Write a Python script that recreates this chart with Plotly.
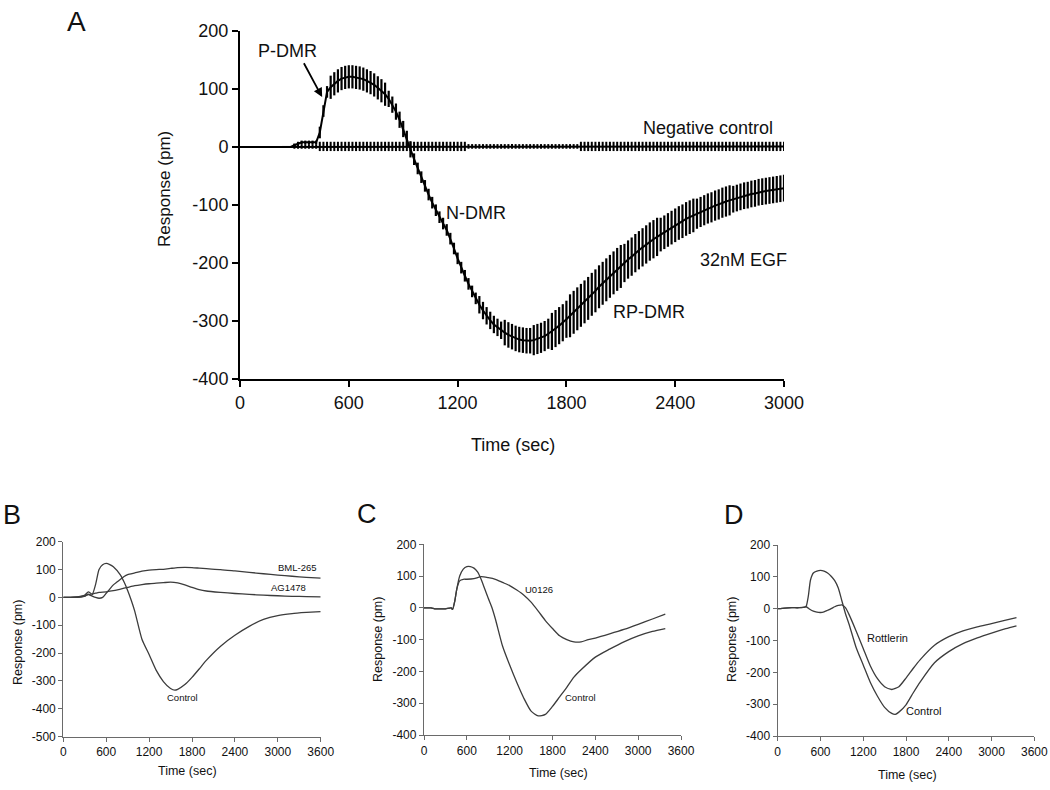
import plotly.graph_objects as go

W, H = 1050, 790
FONT = "Arial, Liberation Sans, sans-serif"


def px(x):
    return x / W


def py(y):
    return 1 - y / H


# ---------------- Panel A data (20 s sampling) ----------------
EGF_TIME = list(range(0, 3001, 20))
EGF_MEAN = [
    0, 0, 0, 0, 0, 0, 0, 0, 0, 0,
    0, 0, 0, 0, 0, 3, 6, 8, 8, 8,
    8, 8, 25, 62, 95, 103, 109, 114, 118, 120,
    121, 121, 120, 119, 117, 114, 111, 107, 102, 97,
    91, 83, 73, 61, 47, 31, 14, -4, -21, -37,
    -52, -67, -82, -96, -109, -121, -132, -143, -158, -175,
    -192, -208, -222, -236, -249, -261, -272, -282, -291, -299,
    -306, -311, -316, -320, -324, -327, -330, -332, -333, -334,
    -334, -333, -331, -329, -326, -322, -318, -313, -308, -303,
    -297, -291, -285, -279, -273, -267, -261, -254, -248, -241,
    -235, -229, -223, -217, -211, -206, -200, -194, -189, -183,
    -178, -173, -168, -163, -159, -155, -151, -147, -143, -139,
    -135, -131, -128, -124, -121, -118, -115, -112, -109, -106,
    -104, -101, -99, -96, -94, -92, -90, -88, -86, -84,
    -83, -81, -80, -78, -77, -76, -75, -74, -73, -72,
    -71,
]
EGF_ERR = [
    0, 0, 0, 0, 0, 0, 0, 0, 0, 0,
    0, 0, 0, 0, 0, 3, 3, 3, 3, 3,
    3, 3, 10, 10, 10, 20, 20, 20, 20, 20,
    20, 20, 20, 20, 20, 20, 20, 20, 20, 20,
    20, 14, 14, 14, 14, 14, 14, 14, 10, 10,
    10, 10, 10, 10, 10, 10, 10, 10, 10, 10,
    10, 10, 10, 10, 10, 10, 15, 15, 15, 15,
    15, 15, 15, 22, 22, 22, 22, 22, 22, 22,
    22, 26, 26, 26, 26, 26, 32, 32, 32, 32,
    32, 37, 37, 37, 37, 37, 37, 37, 37, 37,
    37, 37, 37, 37, 37, 37, 33, 33, 33, 33,
    33, 33, 33, 33, 33, 33, 29, 29, 29, 29,
    29, 29, 29, 29, 29, 29, 26, 26, 26, 26,
    26, 26, 26, 26, 26, 26, 23, 23, 23, 23,
    23, 23, 23, 23, 23, 23, 23, 23, 23, 23,
    23,
]
NEG_MEAN = [
    0, 0, 0, 0, 0, 0, 0, 0, 0, 0,
    0, 0, 0, 0, 0, 1, 1, 1, 1, 1,
    1, 1, 1, 1, 1, 1, 1, 1, 1, 1,
    1, 1, 1, 1, 1, 1, 1, 1, 1, 1,
    1, 1, 1, 1, 1, 1, 1, 1, 1, 1,
    1, 1, 1, 1, 1, 1, 1, 1, 1, 1,
    1, 1, 1, 1, 1, 1, 1, 1, 1, 1,
    1, 1, 1, 1, 1, 1, 1, 1, 1, 1,
    1, 1, 1, 1, 1, 1, 1, 1, 1, 1,
    1, 1, 1, 1, 1, 1, 1, 1, 1, 1,
    1, 1, 1, 1, 1, 1, 1, 1, 1, 1,
    1, 1, 1, 1, 1, 1, 1, 1, 1, 1,
    1, 1, 1, 1, 1, 1, 1, 1, 1, 1,
    1, 1, 1, 1, 1, 1, 1, 1, 1, 1,
    1, 1, 1, 1, 1, 1, 1, 1, 1, 1,
    1,
]
NEG_ERR = [
    0, 0, 0, 0, 0, 0, 0, 0, 0, 0,
    0, 0, 0, 0, 0, 4, 4, 4, 4, 4,
    4, 4, 8, 8, 8, 8, 8, 8, 8, 8,
    8, 8, 8, 8, 8, 8, 8, 8, 8, 8,
    8, 8, 8, 8, 8, 8, 8, 8, 8, 8,
    8, 8, 8, 8, 8, 8, 8, 8, 8, 8,
    8, 8, 8, 4, 4, 4, 4, 4, 4, 4,
    4, 4, 4, 4, 4, 4, 4, 4, 4, 4,
    4, 4, 4, 4, 4, 4, 4, 4, 4, 4,
    4, 4, 4, 4, 8, 8, 8, 8, 8, 8,
    8, 8, 8, 8, 8, 8, 8, 8, 8, 8,
    8, 8, 8, 8, 8, 8, 8, 8, 8, 8,
    8, 8, 8, 8, 8, 8, 8, 8, 8, 8,
    8, 8, 8, 8, 8, 8, 8, 8, 8, 8,
    8, 8, 8, 8, 8, 8, 8, 8, 8, 8,
    8,
]

# ---------------- Panel B data ----------------
B_CTRL_T = [0, 100, 200, 300, 350, 400, 450, 500, 550, 600, 650, 700, 800, 850, 900, 950,
            1000, 1100, 1200, 1300, 1400, 1500, 1560, 1600, 1700, 1800, 1900, 2000, 2200,
            2400, 2600, 2800, 3000, 3200, 3400, 3600]
B_CTRL_V = [0, 0, 2, 5, 12, 8, 45, 100, 117, 122, 118, 110, 80, 55, 25, -10,
            -50, -150, -205, -262, -302, -327, -333, -330, -313, -287, -257, -226, -175,
            -136, -104, -79, -65, -58, -54, -51]
B_BML_T = [0, 100, 200, 300, 350, 400, 450, 500, 550, 600, 650, 700, 750, 800, 850, 900,
           1000, 1100, 1200, 1300, 1400, 1500, 1600, 1700, 1800, 1900, 2000, 2200, 2400,
           2600, 2800, 3000, 3200, 3400, 3600]
B_BML_V = [0, 0, 0, 5, 10, 5, 0, -3, 0, 15, 30, 45, 55, 65, 75, 82,
           88, 94, 98, 100, 101, 104, 107, 108, 107, 105, 103, 100, 95,
           90, 85, 80, 76, 72, 69]
B_AG_T = [0, 100, 200, 300, 350, 400, 450, 500, 600, 700, 800, 900, 1000, 1100, 1200,
          1300, 1400, 1500, 1600, 1700, 1800, 1900, 2000, 2200, 2400, 2600, 2800, 3000,
          3200, 3400, 3600]
B_AG_V = [0, 0, 2, 8, 20, 12, 15, 18, 20, 24, 30, 36, 42, 46, 49,
          51, 53, 55, 52, 45, 36, 28, 23, 18, 14, 11, 8, 6,
          4, 3, 2]

# ---------------- Panel C data ----------------
C_CTRL_T = [0, 100, 150, 200, 300, 380, 400, 430, 460, 500, 550, 600, 650, 700, 750, 800,
            850, 900, 950, 1000, 1100, 1200, 1300, 1400, 1500, 1600, 1700, 1800, 1900,
            2000, 2100, 2200, 2400, 2600, 2800, 3000, 3200, 3380]
C_CTRL_V = [0, 0, -3, -3, -3, 0, -5, 20, 60, 100, 122, 130, 130, 125, 113, 90,
            60, 30, 2, -35, -120, -180, -235, -285, -325, -340, -335, -310, -280,
            -250, -218, -195, -155, -130, -107, -88, -74, -65]
C_U0126_T = [0, 100, 150, 200, 300, 380, 400, 430, 460, 500, 550, 600, 700, 800, 900,
             1000, 1100, 1200, 1300, 1400, 1500, 1600, 1700, 1800, 1900, 2000, 2100,
             2200, 2300, 2400, 2600, 2800, 3000, 3200, 3380]
C_U0126_V = [0, 0, -3, -3, -3, 0, -5, 20, 60, 85, 90, 90, 92, 98, 95,
             90, 80, 70, 56, 40, 18, -10, -40, -65, -88, -100, -107,
             -107, -100, -95, -82, -68, -52, -35, -20]

# ---------------- Panel D data ----------------
D_CTRL_T = [0, 100, 200, 300, 380, 400, 430, 460, 500, 550, 600, 650, 700, 750, 800, 850,
            900, 950, 1000, 1100, 1200, 1300, 1400, 1500, 1600, 1650, 1700, 1800, 1900,
            2000, 2200, 2400, 2600, 2800, 3000, 3200, 3350]
D_CTRL_V = [0, 2, 3, 3, 5, 8, 40, 90, 112, 118, 120, 118, 112, 102, 88, 65,
            25, -15, -48, -122, -177, -232, -275, -310, -329, -332, -325, -302, -265,
            -230, -170, -135, -110, -92, -77, -63, -54]
D_ROTT_T = [0, 100, 200, 300, 380, 400, 450, 500, 550, 600, 650, 700, 750, 800, 850, 900,
            950, 1000, 1100, 1200, 1300, 1400, 1500, 1600, 1700, 1800, 1900, 2000, 2200,
            2400, 2600, 2800, 3000, 3200, 3350]
D_ROTT_V = [0, 2, 3, 3, 5, 6, -2, -8, -11, -12, -10, -5, 0, 6, 10, 12,
            3, -18, -70, -125, -180, -220, -245, -254, -245, -218, -188, -160, -115,
            -88, -70, -57, -47, -36, -28]

TIME_TICKS_A = [0, 600, 1200, 1800, 2400, 3000]
TIME_TICKS_S = [0, 600, 1200, 1800, 2400, 3000, 3600]
RESP_TICKS_A = [-400, -300, -200, -100, 0, 100, 200]
RESP_TICKS_B = [-500, -400, -300, -200, -100, 0, 100, 200]
RESP_TICKS_CD = [-400, -300, -200, -100, 0, 100, 200]

fig = go.Figure()

# Panel A traces
fig.add_trace(go.Scatter(
    x=EGF_TIME, y=NEG_MEAN, mode="lines", xaxis="x", yaxis="y",
    line=dict(color="black", width=2),
    error_y=dict(type="data", array=NEG_ERR, visible=True, width=0,
                 thickness=2, color="black"),
    showlegend=False, hoverinfo="skip"))
fig.add_trace(go.Scatter(
    x=EGF_TIME, y=EGF_MEAN, mode="lines", xaxis="x", yaxis="y",
    line=dict(color="black", width=2),
    error_y=dict(type="data", array=EGF_ERR, visible=True, width=0,
                 thickness=2.2, color="black"),
    showlegend=False, hoverinfo="skip"))

LINE_S = dict(color="#3c3c3c", width=1.3, shape="spline", smoothing=0.6)
for xs, ys, xa, ya in [
    (B_CTRL_T, B_CTRL_V, "x2", "y2"),
    (B_BML_T, B_BML_V, "x2", "y2"),
    (B_AG_T, B_AG_V, "x2", "y2"),
    (C_CTRL_T, C_CTRL_V, "x3", "y3"),
    (C_U0126_T, C_U0126_V, "x3", "y3"),
    (D_CTRL_T, D_CTRL_V, "x4", "y4"),
    (D_ROTT_T, D_ROTT_V, "x4", "y4"),
]:
    fig.add_trace(go.Scatter(x=xs, y=ys, mode="lines", xaxis=xa, yaxis=ya,
                             line=LINE_S, showlegend=False, hoverinfo="skip"))


def axis_common(color, lw, tl, fs):
    return dict(showgrid=False, zeroline=False, showline=True, linecolor=color,
                linewidth=lw, ticks="outside", ticklen=tl, tickwidth=lw,
                tickcolor=color, automargin=False,
                tickfont=dict(family=FONT, size=fs, color="#111"))


def ticks(vals):
    return dict(tickvals=vals, ticktext=[str(v) for v in vals])


ax_a = axis_common("black", 2, 6, 18)
ax_s = axis_common("#6a6a6a", 1.3, 4, 12)

layout = dict(
    template="none",
    width=W, height=H, margin=dict(l=0, r=0, t=0, b=0, pad=0, autoexpand=False),
    paper_bgcolor="white", plot_bgcolor="white",
    font=dict(family=FONT, color="#111"),
    xaxis=dict(domain=[px(240), px(784)], range=[0, 3000], **ticks(TIME_TICKS_A),
               anchor="y", **ax_a),
    yaxis=dict(domain=[py(379), py(31)], range=[-400, 200], **ticks(RESP_TICKS_A),
               anchor="x", **ax_a),
    xaxis2=dict(domain=[px(63.3), px(320.7)], range=[0, 3600], **ticks(TIME_TICKS_S),
                anchor="y2", **ax_s),
    yaxis2=dict(domain=[py(736.7), py(541.7)], range=[-500, 200], **ticks(RESP_TICKS_B),
                anchor="x2", **ax_s),
    xaxis3=dict(domain=[px(424), px(681)], range=[0, 3600], **ticks(TIME_TICKS_S),
                anchor="y3", **ax_s),
    yaxis3=dict(domain=[py(735), py(544.3)], range=[-400, 200], **ticks(RESP_TICKS_CD),
                anchor="x3", **ax_s),
    xaxis4=dict(domain=[px(777.7), px(1034.3)], range=[0, 3600], **ticks(TIME_TICKS_S),
                anchor="y4", **ax_s),
    yaxis4=dict(domain=[py(736), py(545)], range=[-400, 200], **ticks(RESP_TICKS_CD),
                anchor="x4", **ax_s),
)

ann = []


def txt(text, x, y, size, angle=0, color="#111"):
    ann.append(dict(text=text, x=px(x), y=py(y), xref="paper", yref="paper",
                    xanchor="center", yanchor="middle", showarrow=False,
                    textangle=angle, font=dict(family=FONT, size=size, color=color)))


# panel letters
txt("A", 76, 21, 28)
txt("B", 12, 515, 27)
txt("C", 367, 514, 27)
txt("D", 734, 515, 27)

# panel A texts
txt("Response (pm)", 165, 189, 17, angle=-90)
txt("Time (sec)", 513, 445, 18)
txt("P-DMR", 287, 51, 18)
txt("Negative control", 708, 128, 18)
txt("N-DMR", 476, 213, 18)
txt("32nM EGF", 743, 260, 18)
txt("RP-DMR", 649, 312, 18)

# small panel titles
txt("Response (pm)", 18, 643, 12.5, angle=-90)
txt("Time (sec)", 187, 771, 12.5)
txt("Response (pm)", 378, 640, 12.5, angle=-90)
txt("Time (sec)", 558, 773, 12.5)
txt("Response (pm)", 732, 640, 12.5, angle=-90)
txt("Time (sec)", 907, 775, 12.5)

# small panel curve labels
txt("BML-265", 297, 567, 9.5)
txt("AG1478", 288, 587, 9.5)
txt("Control", 182, 697, 9.5)
txt("U0126", 539, 589, 9.5)
txt("Control", 580, 697, 9.5)
txt("Rottlerin", 887, 638, 11)
txt("Control", 923, 711, 11)

# arrow for P-DMR
ann.append(dict(text="", x=453, y=86, ax=348, ay=147, xref="x", yref="y",
                axref="x", ayref="y", showarrow=True, arrowhead=2, arrowsize=1,
                arrowwidth=1.8, arrowcolor="black"))

layout["annotations"] = ann
fig.update_layout(**layout)
fig.write_html("out.html",
               config={"displayModeBar": False},
               post_script="document.body.style.margin='0';"
                           "document.body.style.overflow='hidden';")
